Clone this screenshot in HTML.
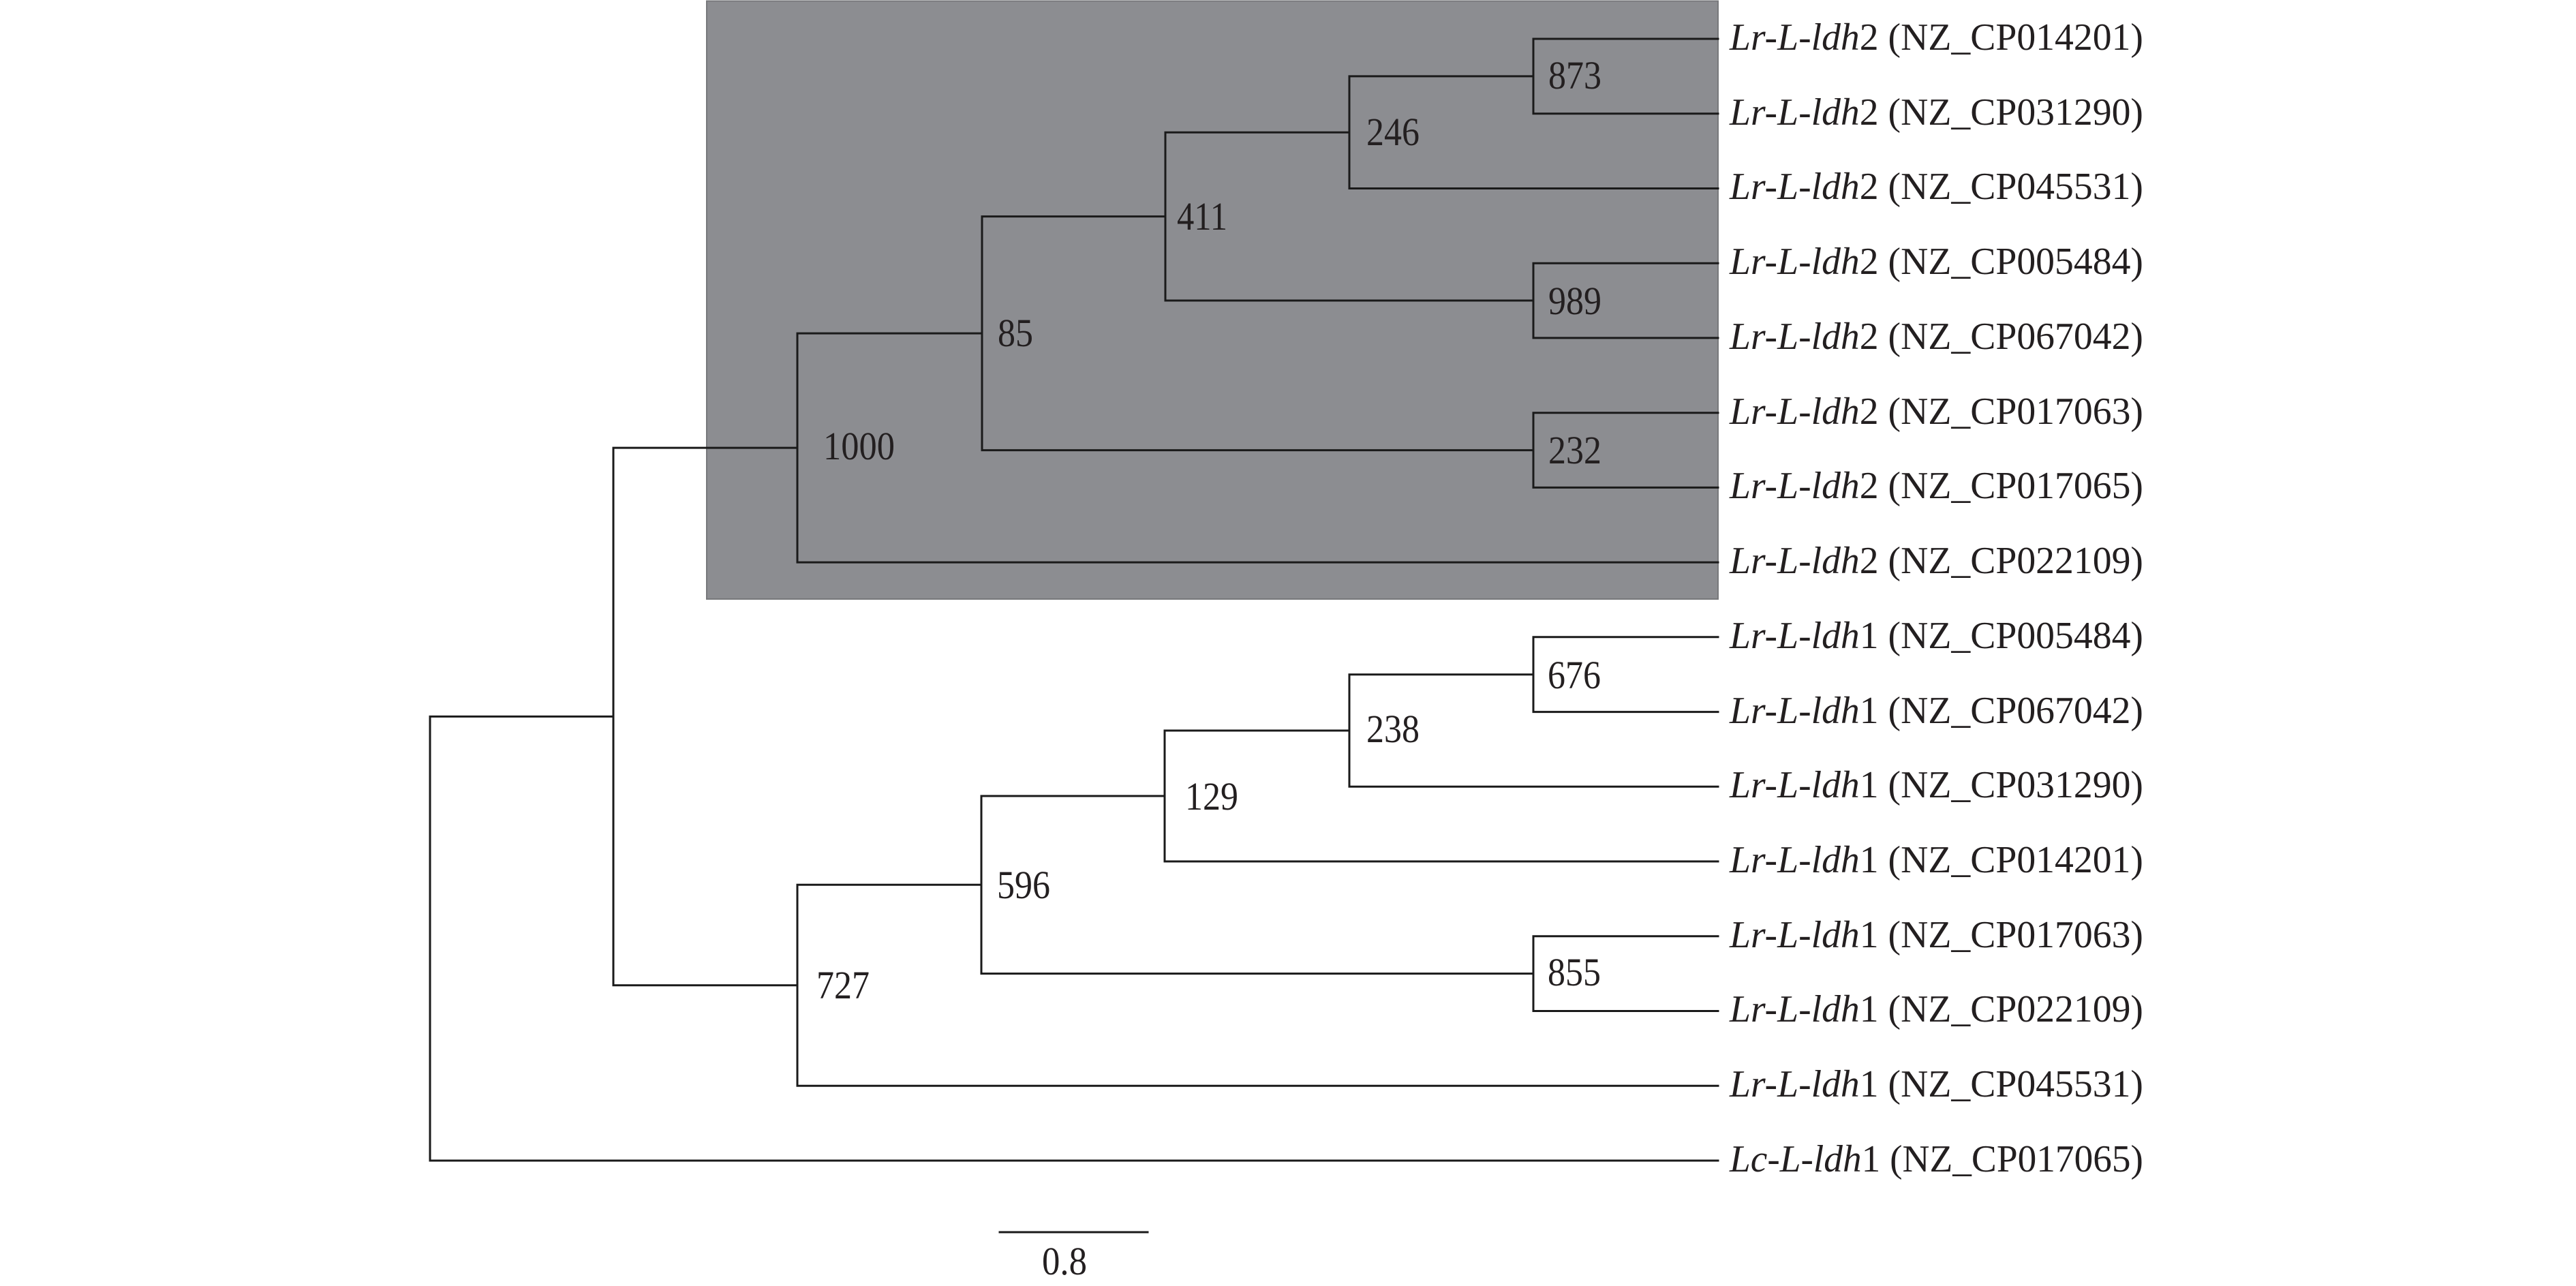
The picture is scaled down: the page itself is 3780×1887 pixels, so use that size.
<!DOCTYPE html>
<html><head><meta charset="utf-8"><style>
html,body{margin:0;padding:0;background:#fff;}
svg{display:block;}
text{font-family:"Liberation Serif",serif;fill:#231f20;}
</style></head><body>
<svg width="3780" height="1887" viewBox="0 0 3780 1887" xmlns="http://www.w3.org/2000/svg">
<rect x="1037" y="1.5" width="1484" height="877.5" fill="#8c8d91" stroke="#77787b" stroke-width="2"/>
<g stroke="#1a1a1a" stroke-width="3" fill="none" stroke-linecap="square">
<path d="M2250 57V166.7M2250 57H2521M2250 166.7H2521"/>
<path d="M1980 111.9V276.5M1980 111.9H2250M1980 276.5H2521"/>
<path d="M2250 386.2V495.9M2250 386.2H2521M2250 495.9H2521"/>
<path d="M1710 194.2V441M1710 194.2H1980M1710 441H2250"/>
<path d="M2250 605.7V715.4M2250 605.7H2521M2250 715.4H2521"/>
<path d="M1441 317.6V660.6M1441 317.6H1710M1441 660.6H2250"/>
<path d="M1170 489.1V825.1M1170 489.1H1441M1170 825.1H2521"/>
<path d="M2250 934.8V1044.6M2250 934.8H2521M2250 1044.6H2521"/>
<path d="M1980 989.7V1154.3M1980 989.7H2250M1980 1154.3H2521"/>
<path d="M1709 1072V1264M1709 1072H1980M1709 1264H2521"/>
<path d="M2250 1373.8V1483.5M2250 1373.8H2521M2250 1483.5H2521"/>
<path d="M1440 1168V1428.6M1440 1168H1709M1440 1428.6H2250"/>
<path d="M1170 1298.3V1593.2M1170 1298.3H1440M1170 1593.2H2521"/>
<path d="M900 657.1V1445.8M900 657.1H1170M900 1445.8H1170"/>
<path d="M631 1051.4V1703M631 1051.4H900M631 1703H2521"/>
<path d="M1467 1808H1684"/>
</g>
<g font-size="58">
<text x="2272" y="130" textLength="78" lengthAdjust="spacingAndGlyphs">873</text>
<text x="2005" y="213" textLength="78" lengthAdjust="spacingAndGlyphs">246</text>
<text x="1727" y="337" textLength="74" lengthAdjust="spacingAndGlyphs">411</text>
<text x="2272" y="461" textLength="78" lengthAdjust="spacingAndGlyphs">989</text>
<text x="1464" y="508" textLength="52" lengthAdjust="spacingAndGlyphs">85</text>
<text x="2272" y="680" textLength="78" lengthAdjust="spacingAndGlyphs">232</text>
<text x="1208" y="674" textLength="105" lengthAdjust="spacingAndGlyphs">1000</text>
<text x="2271" y="1010" textLength="78" lengthAdjust="spacingAndGlyphs">676</text>
<text x="2005" y="1089" textLength="78" lengthAdjust="spacingAndGlyphs">238</text>
<text x="1739" y="1188" textLength="78" lengthAdjust="spacingAndGlyphs">129</text>
<text x="2271" y="1446" textLength="78" lengthAdjust="spacingAndGlyphs">855</text>
<text x="1463" y="1318" textLength="78" lengthAdjust="spacingAndGlyphs">596</text>
<text x="1198" y="1465" textLength="78" lengthAdjust="spacingAndGlyphs">727</text>
<text x="1529" y="1870" textLength="66" lengthAdjust="spacingAndGlyphs">0.8</text>
</g>
<g font-size="56">
<text x="2538" y="73" textLength="607" lengthAdjust="spacingAndGlyphs"><tspan font-style="italic">Lr-L-ldh</tspan>2 (NZ_CP014201)</text>
<text x="2538" y="183" textLength="607" lengthAdjust="spacingAndGlyphs"><tspan font-style="italic">Lr-L-ldh</tspan>2 (NZ_CP031290)</text>
<text x="2538" y="292" textLength="607" lengthAdjust="spacingAndGlyphs"><tspan font-style="italic">Lr-L-ldh</tspan>2 (NZ_CP045531)</text>
<text x="2538" y="402" textLength="607" lengthAdjust="spacingAndGlyphs"><tspan font-style="italic">Lr-L-ldh</tspan>2 (NZ_CP005484)</text>
<text x="2538" y="512" textLength="607" lengthAdjust="spacingAndGlyphs"><tspan font-style="italic">Lr-L-ldh</tspan>2 (NZ_CP067042)</text>
<text x="2538" y="622" textLength="607" lengthAdjust="spacingAndGlyphs"><tspan font-style="italic">Lr-L-ldh</tspan>2 (NZ_CP017063)</text>
<text x="2538" y="731" textLength="607" lengthAdjust="spacingAndGlyphs"><tspan font-style="italic">Lr-L-ldh</tspan>2 (NZ_CP017065)</text>
<text x="2538" y="841" textLength="607" lengthAdjust="spacingAndGlyphs"><tspan font-style="italic">Lr-L-ldh</tspan>2 (NZ_CP022109)</text>
<text x="2538" y="951" textLength="607" lengthAdjust="spacingAndGlyphs"><tspan font-style="italic">Lr-L-ldh</tspan>1 (NZ_CP005484)</text>
<text x="2538" y="1061" textLength="607" lengthAdjust="spacingAndGlyphs"><tspan font-style="italic">Lr-L-ldh</tspan>1 (NZ_CP067042)</text>
<text x="2538" y="1170" textLength="607" lengthAdjust="spacingAndGlyphs"><tspan font-style="italic">Lr-L-ldh</tspan>1 (NZ_CP031290)</text>
<text x="2538" y="1280" textLength="607" lengthAdjust="spacingAndGlyphs"><tspan font-style="italic">Lr-L-ldh</tspan>1 (NZ_CP014201)</text>
<text x="2538" y="1390" textLength="607" lengthAdjust="spacingAndGlyphs"><tspan font-style="italic">Lr-L-ldh</tspan>1 (NZ_CP017063)</text>
<text x="2538" y="1499" textLength="607" lengthAdjust="spacingAndGlyphs"><tspan font-style="italic">Lr-L-ldh</tspan>1 (NZ_CP022109)</text>
<text x="2538" y="1609" textLength="607" lengthAdjust="spacingAndGlyphs"><tspan font-style="italic">Lr-L-ldh</tspan>1 (NZ_CP045531)</text>
<text x="2538" y="1719" textLength="607" lengthAdjust="spacingAndGlyphs"><tspan font-style="italic">Lc-L-ldh</tspan>1 (NZ_CP017065)</text>
</g>
</svg>
</body></html>
